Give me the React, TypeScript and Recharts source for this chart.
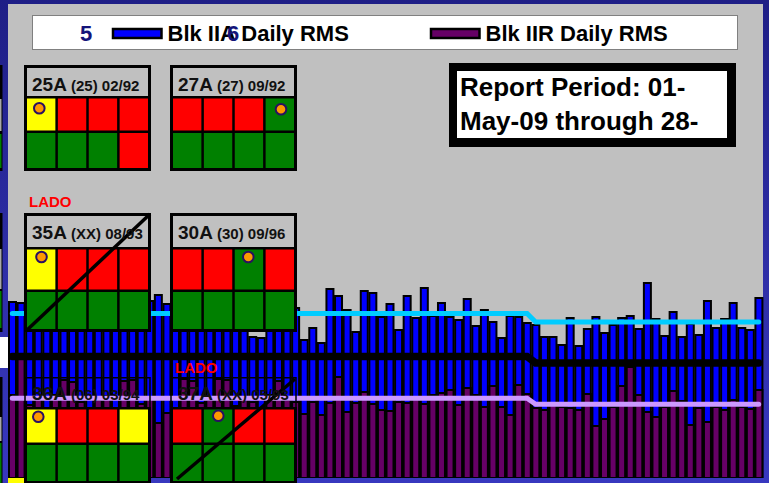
import React from 'react';
import { ComposedChart, Bar, Line, XAxis, YAxis } from 'recharts';

// ---- data ----
const monthSpans: [string, number][] = [['May', 31], ['Jun', 30], ['Jul', 27]];
const quarterOfMonth: Record<string, number> = { May: 0, Jun: 0, Jul: 1 };

const blkIIA = [
  1.76, 1.75, 1.78, 1.68, 1.82, 1.73, 1.63, 1.86, 1.70, 1.58,
  1.79, 1.66, 1.74, 1.60, 1.82, 1.69, 1.77, 1.83, 1.74, 1.72,
  1.80, 1.64, 1.56, 1.78, 1.67, 1.83, 1.60, 1.71, 1.41, 1.40,
  1.68, 1.76, 1.63, 1.70, 1.38, 1.50, 1.35, 1.89, 1.82, 1.68,
  1.46, 1.87, 1.85, 1.61, 1.74, 1.48, 1.82, 1.60, 1.90, 1.62,
  1.75, 1.61, 1.58, 1.79, 1.52, 1.68, 1.56, 1.40, 1.62, 1.61,
  1.55, 1.53, 1.41, 1.41, 1.33, 1.60, 1.32, 1.49, 1.61, 1.45,
  1.53, 1.60, 1.62, 1.49, 1.95, 1.59, 1.42, 1.66, 1.41, 1.54,
  1.43, 1.77, 1.50, 1.59, 1.75, 1.50, 1.48, 1.80,
];

const blkIIR = [
  0.83, 1.21, 0.73, 0.80, 0.68, 0.83, 0.98, 0.96, 0.76, 0.66,
  0.78, 0.82, 0.70, 0.97, 0.98, 0.74, 0.79, 0.55, 0.65, 0.68,
  0.99, 0.97, 0.75, 0.78, 0.99, 0.98, 0.72, 0.80, 0.76, 0.70,
  0.83, 0.97, 0.78, 0.76, 0.64, 0.76, 0.63, 0.75, 1.01, 0.66,
  0.75, 0.86, 0.74, 0.68, 0.67, 0.76, 0.75, 0.81, 0.74, 0.83,
  0.85, 0.88, 0.73, 0.90, 0.83, 0.71, 0.92, 0.71, 0.63, 0.93,
  0.84, 0.70, 0.68, 0.73, 0.71, 0.70, 0.68, 0.84, 0.52, 0.59,
  0.71, 0.92, 1.11, 0.83, 0.66, 0.61, 0.71, 0.87, 0.77, 0.53,
  0.70, 0.56, 0.71, 0.68, 0.78, 0.71, 0.69, 0.88,
];

// quarterly averages [Q2, Q3]
const avgIIA = [1.645, 1.56];
const avgAll = [1.215, 1.15];
const avgIIR = [0.797, 0.738];

const days: { label: string; q: number }[] = [];
monthSpans.forEach(([m, n]) => {
  for (let d = 1; d <= n; d++) days.push({ label: `${String(d).padStart(2, '0')}-${m}`, q: quarterOfMonth[m] });
});

const data = days.map((d, i) => ({
  day: d.label,
  iia: blkIIA[i],
  iir: blkIIR[i],
  avgA: avgIIA[d.q],
  avgAll: avgAll[d.q],
  avgR: avgIIR[d.q],
}));

const legendItems = [
  { label: 'Blk IIA Daily RMS', color: '#0000FF' },
  { label: 'Blk IIR Daily RMS', color: '#660066' },
];

// ---- status boxes ----
const R = '#FF0000', Gn = '#008000', Y = '#FFFF00';
type BoxDef = {
  x: number; y: number; w: number; hh: number; r1: number; r2: number;
  cells: string[][]; title: string; sub: string; circle: [number, number];
  diag?: [number, number, number, number]; open?: boolean; base: number;
};
const boxes: BoxDef[] = [
  { x: 24, y: 65, w: 127, hh: 28, r1: 32, r2: 35, cells: [[Y, R, R, R], [Gn, Gn, Gn, R]], title: '25A', sub: ' (25) 02/92', circle: [39.3, 108.3], base: 26 },
  { x: 170, y: 65, w: 127, hh: 28, r1: 32, r2: 35, cells: [[R, R, R, Gn], [Gn, Gn, Gn, Gn]], title: '27A', sub: ' (27) 09/92', circle: [281, 109.3], base: 26 },
  { x: 24, y: 213, w: 127, hh: 31, r1: 40, r2: 37, cells: [[Y, R, R, R], [Gn, Gn, Gn, Gn]], title: '35A', sub: ' (XX) 08/93', circle: [41.5, 257], diag: [26, 331, 150, 214], base: 26 },
  { x: 170, y: 213, w: 127, hh: 31, r1: 40, r2: 37, cells: [[R, R, Gn, R], [Gn, Gn, Gn, Gn]], title: '30A', sub: ' (30) 09/96', circle: [248.3, 257], base: 26 },
  { x: 24, y: 377, w: 127, hh: 27, r1: 33, r2: 36, cells: [[Y, R, R, Y], [Gn, Gn, Gn, Gn]], title: '36A', sub: ' (06) 03/94', circle: [38.3, 416.7], open: true, base: 23 },
  { x: 170, y: 377, w: 127, hh: 27, r1: 33, r2: 36, cells: [[R, Gn, R, R], [Gn, Gn, Gn, Gn]], title: '37A', sub: ' (XX) 05/93', circle: [218.3, 415.7], diag: [177, 479, 295, 379], open: true, base: 23 },
];

const FONT = "'Liberation Sans', Arial, Helvetica, sans-serif";
const BW = 3, GW = 2.5;

function SatBox({ b }: { b: BoxDef }) {
  const cw = (b.w - 2 * BW - 3 * GW) / 4;
  const H = BW + b.hh + GW + b.r1 + GW + b.r2 + BW;
  const gridTop = b.y + BW + b.hh;
  const rowsY = [gridTop + GW, gridTop + GW + b.r1 + GW];
  const rowsH = [b.r1, b.r2];
  return (
    <g>
      {b.open ? (
        <>
          <rect x={b.x + 1} y={b.y + 0.75} width={b.w - 2} height={b.hh + BW} fill="none" stroke="#000" strokeWidth={1.5} />
          <rect x={b.x} y={gridTop} width={b.w} height={H - BW - b.hh} fill="#000" />
        </>
      ) : (
        <>
          <rect x={b.x} y={b.y} width={b.w} height={H} fill="#000" />
          <rect x={b.x + BW} y={b.y + BW} width={b.w - 2 * BW} height={b.hh} fill="#C0C0C0" />
        </>
      )}
      {b.cells.map((row, ri) =>
        row.map((c, ci) => (
          <rect key={`${ri}-${ci}`} x={b.x + BW + ci * (cw + GW)} y={rowsY[ri]} width={cw} height={rowsH[ri]} fill={c} />
        ))
      )}
      <circle cx={b.circle[0]} cy={b.circle[1]} r={5.3} fill="#FF9900" stroke="#2a1060" strokeWidth={2} />
      {b.diag && (
        <line x1={b.diag[0]} y1={b.diag[1]} x2={b.diag[2]} y2={b.diag[3]} stroke="#000" strokeWidth={3.5} />
      )}
      <text x={b.x + 8} y={b.y + b.base} fontFamily={FONT} fontWeight="bold" fill="#111">
        <tspan fontSize={19}>{b.title}</tspan>
        <tspan fontSize={15}>{b.sub}</tspan>
      </text>
    </g>
  );
}

export default function App() {
  return (
    <div
      style={{
        position: 'absolute', left: 0, top: 0, width: 769, height: 483, overflow: 'hidden',
        background: 'linear-gradient(180deg, #1e1e86 0%, #2e2ea6 55%, #3838bf 100%)',
      }}
    >
      <div style={{ position: 'absolute', left: 8, top: 4, width: 755, height: 474, background: '#C0C0C0' }} />
      <div style={{ position: 'absolute', left: 8, top: 478, width: 16, height: 5, background: '#FFFF00' }} />
      <div style={{ position: 'absolute', left: 0, top: 0 }}>
        <ComposedChart width={769} height={483} data={data} margin={{ top: 4, right: 6, bottom: 5, left: 8 }}>
          <XAxis xAxisId="a" dataKey="day" hide />
          <XAxis xAxisId="b" dataKey="day" hide />
          <YAxis hide domain={[0, 4.74]} allowDataOverflow />
          <Bar xAxisId="a" dataKey="iia" name={legendItems[0].label} fill={legendItems[0].color} stroke="#000" strokeWidth={2} barSize={7} isAnimationActive={false} />
          <Bar xAxisId="b" dataKey="iir" name={legendItems[1].label} fill={legendItems[1].color} stroke="#000" strokeWidth={2} barSize={7} isAnimationActive={false} />
          <Line xAxisId="a" type="linear" dataKey="avgA" stroke="#00CCFF" strokeWidth={5} strokeLinecap="round" dot={false} activeDot={false} isAnimationActive={false} />
          <Line xAxisId="a" type="linear" dataKey="avgAll" stroke="#000000" strokeWidth={7.5} strokeLinecap="round" dot={false} activeDot={false} isAnimationActive={false} />
          <Line xAxisId="a" type="linear" dataKey="avgR" stroke="#CC99FF" strokeWidth={5} strokeLinecap="round" dot={false} activeDot={false} isAnimationActive={false} />
        </ComposedChart>
      </div>
      <svg width={769} height={483} style={{ position: 'absolute', left: 0, top: 0 }}>
        {/* left edge fragments of neighbouring panel */}
        <rect x={0} y={65} width={2.5} height={106} fill="#000" />
        <rect x={0} y={99} width={1.5} height={32} fill="#a8a8a8" />
        <rect x={0} y={134} width={1.5} height={34} fill="#008000" />
        <rect x={0} y={213} width={2.5} height={119} fill="#000" />
        <rect x={0} y={249} width={1.5} height={40} fill="#a8a8a8" />
        <rect x={0} y={291} width={1.5} height={37} fill="#008000" />
        <rect x={0} y={337} width={8} height={31} fill="#ffffff" />
        <rect x={0} y={377} width={2.5} height={106} fill="#000" />
        <rect x={0} y={417} width={1.5} height={24} fill="#a8a8a8" />
        <rect x={0} y={443} width={1.5} height={40} fill="#008000" />

        {/* legend */}
        <rect x={32.5} y={15.5} width={705} height={34} fill="#ffffff" stroke="#808080" strokeWidth={1} />
        <text x={80} y={41} fontFamily={FONT} fontWeight="bold" fontSize={22} fill="#14147a">5</text>
        <rect x={113} y={29} width={48.5} height={9} fill={legendItems[0].color} stroke="#000" strokeWidth={2.5} />
        <text x={167.5} y={41} fontFamily={FONT} fontWeight="bold" fontSize={22} fill="#000">{legendItems[0].label}</text>
        <text x={227} y={41} fontFamily={FONT} fontWeight="bold" fontSize={22} fill="#14147a">6</text>
        <rect x={431} y={29} width={48.5} height={9} fill={legendItems[1].color} stroke="#000" strokeWidth={2.5} />
        <text x={485.5} y={41} fontFamily={FONT} fontWeight="bold" fontSize={22} fill="#000">{legendItems[1].label}</text>

        {/* report period */}
        <rect x={449} y={63} width={287} height={84} fill="#000" />
        <rect x={457} y={71} width={270} height={67} fill="#fff" />
        <text x={460} y={96} fontFamily={FONT} fontWeight="bold" fontSize={26} fill="#000">Report Period: 01-</text>
        <text x={460} y={130} fontFamily={FONT} fontWeight="bold" fontSize={26} fill="#000">May-09 through 28-</text>

        {boxes.map((b) => <SatBox key={b.title} b={b} />)}

        <text x={29} y={206.5} fontFamily={FONT} fontWeight="bold" fontSize={15} fill="#FF0000">LADO</text>
        <text x={175} y={372.5} fontFamily={FONT} fontWeight="bold" fontSize={15} fill="#FF0000">LADO</text>
      </svg>
    </div>
  );
}
